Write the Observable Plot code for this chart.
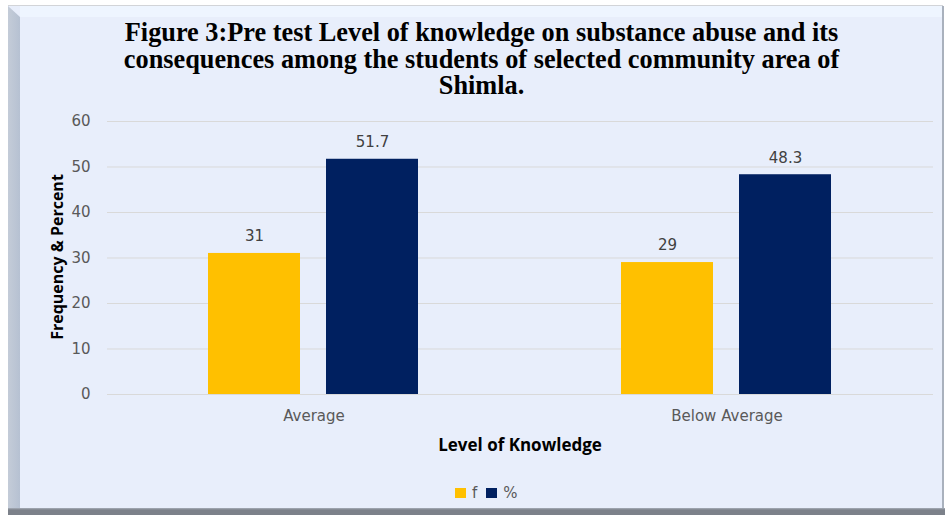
<!DOCTYPE html>
<html>
<head>
<meta charset="utf-8">
<script src="https://cdn.jsdelivr.net/npm/d3@7"></script>
<script src="https://cdn.jsdelivr.net/npm/@observablehq/plot@0.6"></script>
<style>
  html, body { margin: 0; padding: 0; background: #ffffff; }
  #wrap { position: relative; width: 945px; height: 515px; overflow: hidden; background: #ffffff; }
  .abs { position: absolute; }
  #main { left: 8px; top: 5px; width: 935px; height: 503px; background: #e8eefb; border-top: 1px solid #d2d4d8; }
  #topband { left: 20px; top: 6px; width: 923px; height: 11px; background: #eef5ff; }
  #leftbevel { left: 8px; top: 6px; width: 12px; height: 502px; background: linear-gradient(90deg, #c4ccd8, #b6c1d2); clip-path: polygon(0 0, 100% 11px, 100% 100%, 0 100%); }
  #rightline { left: 942px; top: 6px; width: 2px; height: 502px; background: #a9b1bd; }
  #bottomband { left: 8px; top: 508px; width: 937px; height: 7px; background: linear-gradient(180deg, #a6adb8 0px, #7c818a 2px, #7c818a 100%); }
  #title { left: 20px; top: 20px; width: 923px; text-align: center; font-family: "Liberation Serif", "Times New Roman", serif; font-weight: bold; font-size: 26.3px; line-height: 26.5px; color: #000; }
  #chart { left: 0; top: 100px; }
  #ylabel { left: 57px; top: 257px; transform: translate(-50%, -50%) rotate(-90deg); white-space: nowrap; font-family: "Open Sans", sans-serif; font-weight: bold; font-size: 16px; color: #000; }
  #xlabel { left: 520px; top: 444px; transform: translate(-50%, -50%); white-space: nowrap; font-family: "Open Sans", sans-serif; font-weight: bold; font-size: 17px; color: #000; }
  #legend { left: 455px; top: 484px; display: flex; align-items: center; font-family: "DejaVu Sans", sans-serif; font-size: 15px; color: #595959; }
  .sw { display: inline-block; width: 11px; height: 10px; margin-right: 6px; }
  .item { display: flex; align-items: center; margin-right: 9px; }
</style>
</head>
<body>
<div id="wrap">
  <div id="main" class="abs"></div>
  <div id="topband" class="abs"></div>
  <div id="leftbevel" class="abs"></div>
  <div id="rightline" class="abs"></div>
  <div id="bottomband" class="abs"></div>
  <div id="title" class="abs">Figure 3:Pre test Level of knowledge on substance abuse and its<br>consequences among the students of selected community area of<br>Shimla.</div>
  <div id="chart" class="abs"></div>
  <div id="ylabel" class="abs">Frequency &amp; Percent</div>
  <div id="xlabel" class="abs">Level of Knowledge</div>
  <div id="legend" class="abs"></div>
</div>
<script>
const levels = ["Average", "Below Average"];
const series = ["f", "%"];
const fValues = [31, 29];
const pctValues = [51.7, 48.3];
const colors = ["#FFC000", "#002060"];
const yTicks = [0, 10, 20, 30, 40, 50, 60];

const rows = [];
levels.forEach((lv, i) => {
  rows.push({level: lv, series: "f", value: fValues[i]});
  rows.push({level: lv, series: "%", value: pctValues[i]});
});

const chart = Plot.plot({
  width: 945,
  height: 360,
  marginTop: 21,
  marginBottom: 66,
  marginLeft: 107,
  marginRight: 12,
  style: {background: "transparent", fontFamily: "DejaVu Sans, sans-serif", overflow: "visible"},
  fx: {domain: levels, padding: 0, label: null},
  x: {domain: series, paddingInner: 0.22, paddingOuter: 0.86, axis: null},
  y: {domain: [0, 60], label: null},
  color: {domain: series, range: colors},
  marks: [
    Plot.gridY(yTicks, {stroke: "#d9d9d9", strokeOpacity: 1, strokeWidth: 1, facet: false}),
    Plot.axisY(yTicks, {tickSize: 0, tickPadding: 17, fontSize: 15, fill: "#595959", label: null}),
    Plot.axisFx({anchor: "bottom", tickSize: 0, tickPadding: 16, fontSize: 15, fill: "#595959", label: null}),
    Plot.barY(rows, {fx: "level", x: "series", y: "value", fill: "series"}),
    Plot.text(rows, {fx: "level", x: "series", y: "value", text: d => String(d.value), dy: -17, fontSize: 15, fill: "#404040"})
  ]
});
document.getElementById("chart").appendChild(chart);

const legend = document.getElementById("legend");
series.forEach((s, i) => {
  const it = document.createElement("span");
  it.className = "item";
  const sw = document.createElement("span");
  sw.className = "sw";
  sw.style.background = colors[i];
  it.appendChild(sw);
  it.appendChild(document.createTextNode(s));
  legend.appendChild(it);
});
</script>
</body>
</html>
